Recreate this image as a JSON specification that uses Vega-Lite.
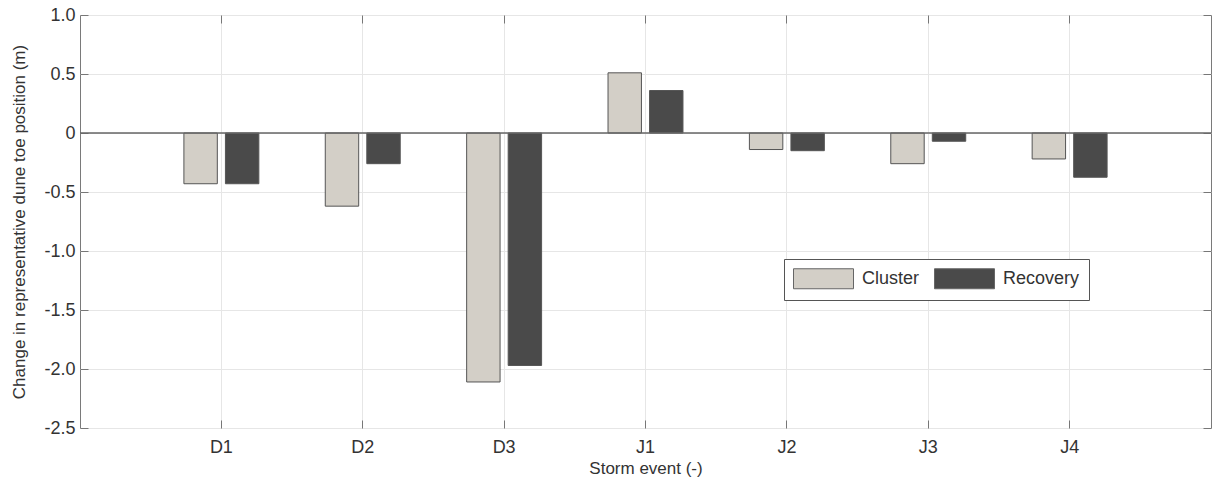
{
  "$schema": "https://vega.github.io/schema/vega-lite/v6.json",
  "width": 1131,
  "height": 413,
  "autosize": {"type": "none"},
  "padding": {"left": 80, "top": 15, "right": 2, "bottom": 56},
  "background": "white",
  "config": {
    "font": "Liberation Sans",
    "view": {"stroke": "#7a7a7a", "strokeWidth": 1},
    "axis": {
      "labelFont": "Liberation Sans",
      "titleFont": "Liberation Sans",
      "labelFontSize": 18,
      "titleFontSize": 17,
      "labelColor": "#333333",
      "titleColor": "#333333",
      "titleFontWeight": "normal",
      "domain": false,
      "gridColor": "#e6e6e6",
      "gridWidth": 1,
      "tickColor": "#777777"
    }
  },
  "data": {
    "values": [
      {"event": "D1", "series": "Cluster", "value": -0.43},
      {"event": "D1", "series": "Recovery", "value": -0.43},
      {"event": "D2", "series": "Cluster", "value": -0.62},
      {"event": "D2", "series": "Recovery", "value": -0.26},
      {"event": "D3", "series": "Cluster", "value": -2.11},
      {"event": "D3", "series": "Recovery", "value": -1.97},
      {"event": "J1", "series": "Cluster", "value": 0.51},
      {"event": "J1", "series": "Recovery", "value": 0.36},
      {"event": "J2", "series": "Cluster", "value": -0.14},
      {"event": "J2", "series": "Recovery", "value": -0.15},
      {"event": "J3", "series": "Cluster", "value": -0.26},
      {"event": "J3", "series": "Recovery", "value": -0.07},
      {"event": "J4", "series": "Cluster", "value": -0.22},
      {"event": "J4", "series": "Recovery", "value": -0.375}
    ]
  },
  "resolve": {"axis": {"x": "independent", "y": "independent"}},
  "layer": [
    {
      "mark": {"type": "bar", "stroke": "#555555", "strokeWidth": 1},
      "encoding": {
        "x": {
          "field": "event",
          "type": "nominal",
          "sort": null,
          "scale": {"paddingInner": 0, "paddingOuter": 0.5},
          "axis": {
            "orient": "bottom",
            "labelAngle": 0,
            "bandPosition": 0.5,
            "grid": true,
            "tickSize": -8,
            "labelPadding": 18,
            "title": "Storm event (-)",
            "titlePadding": 4
          }
        },
        "xOffset": {
          "field": "series",
          "type": "nominal",
          "sort": ["Cluster", "Recovery"],
          "scale": {"paddingInner": 0.195, "paddingOuter": 0.8}
        },
        "y": {
          "field": "value",
          "type": "quantitative",
          "scale": {"domain": [-2.5, 1.0], "nice": false, "zero": false},
          "axis": {
            "orient": "left",
            "values": [-2.5, -2, -1.5, -1, -0.5, 0, 0.5, 1],
            "labelExpr": "datum.value == 0 ? '0' : replace(format(datum.value, '.1f'), '\u2212', '-')",
            "grid": true,
            "tickSize": -8,
            "labelPadding": 13,
            "title": "Change in representative dune toe position (m)",
            "titlePadding": 15
          }
        },
        "color": {
          "field": "series",
          "type": "nominal",
          "scale": {"domain": ["Cluster", "Recovery"], "range": ["#d3cfc7", "#4a4a4a"]},
          "legend": {
            "orient": "none",
            "legendX": 704,
            "legendY": 244,
            "direction": "horizontal",
            "title": null,
            "strokeColor": "#555555",
            "fillColor": "white",
            "padding": 9,
            "symbolType": "M-1,-1H5V1H-1Z",
            "symbolSize": 400,
            "symbolStrokeColor": "#666666",
            "symbolStrokeWidth": 1,
            "symbolOpacity": 1,
            "labelFont": "Liberation Sans",
            "labelFontSize": 18,
            "labelColor": "#333333",
            "labelOffset": 48,
            "columnPadding": 12
          }
        }
      }
    },
    {
      "data": {"values": [{"level": 0}]},
      "mark": {"type": "rule", "color": "#666666", "strokeWidth": 1.5},
      "encoding": {
        "y": {
          "field": "level",
          "type": "quantitative",
          "axis": {
            "orient": "right",
            "values": [-2.5, -2, -1.5, -1, -0.5, 0, 0.5, 1],
            "labels": false,
            "grid": false,
            "tickSize": -8,
            "title": null
          }
        }
      }
    },
    {
      "mark": {"type": "point", "opacity": 0},
      "encoding": {
        "x": {
          "field": "event",
          "type": "nominal",
          "sort": null,
          "axis": {
            "orient": "top",
            "bandPosition": 0.5,
            "labels": false,
            "grid": false,
            "tickSize": -8,
            "title": null
          }
        }
      }
    }
  ]
}
